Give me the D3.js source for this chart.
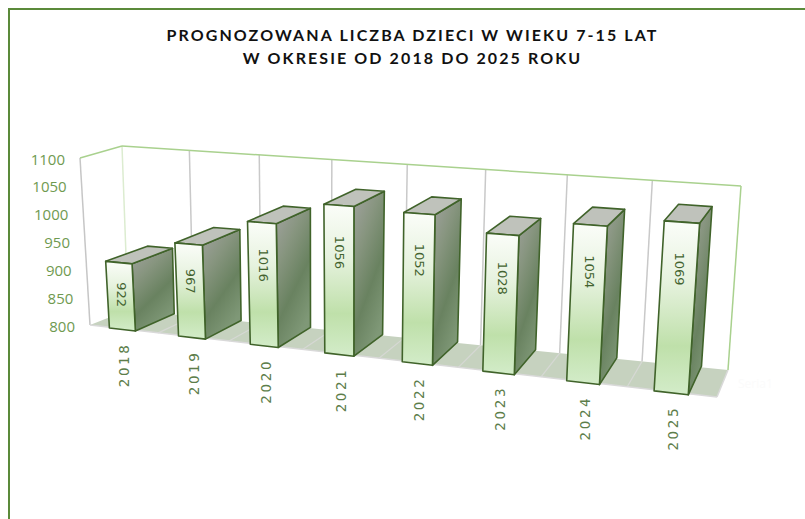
<!DOCTYPE html>
<html>
<head>
<meta charset="utf-8">
<script src="https://cdn.jsdelivr.net/npm/d3@7"></script>
<style>
	html, body { margin: 0; padding: 0; background: #fff; }
	svg { display: block; }
</style>
</head>
<body>
<svg id="chart" width="805" height="519"></svg>
<script>
const years = ['2018', '2019', '2020', '2021', '2022', '2023', '2024', '2025'];
const values = [922, 967, 1016, 1056, 1052, 1028, 1054, 1069];
const valueTicks = [800, 850, 900, 950, 1000, 1050, 1100];
const titleLines = ['PROGNOZOWANA LICZBA DZIECI W WIEKU 7-15 LAT', 'W OKRESIE OD 2018 DO 2025 ROKU'];

const width = 805;
const height = 519;

// The corners of the 3d box as they land on the screen
const box = {
	frontBottomLeft: [90, 325], frontBottomRight: [717, 397],
	backBottomLeft: [128, 310], backBottomRight: [728, 370],
	frontTopLeft: [80, 158], frontTopRight: [731, 200],
	backTopLeft: [122, 146], backTopRight: [741, 186]
};
const perspective = 1.17;
const barSquash = 0.975; // bars sit a little short of the wall ticks

const mix = (a, b, t) => [a[0] + (b[0] - a[0]) * t, a[1] + (b[1] - a[1]) * t];

// u along the categories, v up the value axis, w into the depth, all 0..1
const project = (u, v, w) => {
	const p = u / (u + perspective * (1 - u));
	const front = mix(mix(box.frontBottomLeft, box.frontBottomRight, p), mix(box.frontTopLeft, box.frontTopRight, p), v);
	const back = mix(mix(box.backBottomLeft, box.backBottomRight, p), mix(box.backTopLeft, box.backTopRight, p), v);
	return mix(front, back, w);
};

const x = d3.scaleBand().domain(years).range([0, 1]).paddingInner(0.62).paddingOuter(0.31);
const y = d3.scaleLinear().domain([800, 1100]).range([0, 1]);
const z = d3.scaleLinear().domain([0, 1]).range([-0.04, 1.04]);
const labelDrop = d3.scaleLinear().domain([922, 1056]).range([32, 47]).clamp(true);

const line = d3.line();
const closed = pts => line(pts) + 'Z';

const svg = d3.select('#chart');
const defs = svg.append('defs');

const addGradient = (id, coords, stops) => {
	const g = defs.append('linearGradient').attr('id', id).attr('x1', coords[0]).attr('y1', coords[1]).attr('x2', coords[2]).attr('y2', coords[3]);
	stops.forEach(s => g.append('stop').attr('offset', s[0]).attr('stop-color', s[1]));
};
addGradient('front', [0, 0, 0, 1], [[0, '#fbfdf9'], [0.35, '#e6f2de'], [0.72, '#bfe0aa'], [1, '#d3ecc9']]);
addGradient('side', [0, 0, 0.5, 1], [[0, '#a2a3a0'], [0.35, '#87957f'], [0.68, '#698260'], [1, '#7f9877']]);

// chart frame
svg.append('path')
	.attr('d', line([[9, height], [9, 9], [width, 9]]))
	.attr('fill', 'none')
	.attr('stroke', '#5b8a3a')
	.attr('stroke-width', 2);

// title
svg.append('g').selectAll('text')
	.data(titleLines)
	.join('text')
	.attr('x', 412.5)
	.attr('y', (d, i) => 41 + i * 23)
	.attr('text-anchor', 'middle')
	.attr('font-family', 'Lato, sans-serif')
	.attr('font-weight', 700)
	.attr('font-size', 16)
	.attr('letter-spacing', 2.1)
	.attr('fill', '#111')
	.text(d => d);

// floor
svg.append('path')
	.attr('d', closed([project(0, 0, 0), project(1, 0, 0), project(1, 0, 1), project(0, 0, 1)]))
	.attr('fill', '#c6d2bf');

const step = x.step();
const gridAt = d3.range(1, years.length).map(i => i * step);

// wall and floor grid lines
const grid = svg.append('g').attr('fill', 'none');
grid.selectAll('path.wall')
	.data(gridAt)
	.join('path')
	.attr('class', 'wall')
	.attr('d', d => line([project(d, 0, 1), project(d, 1, 1)]))
	.attr('stroke', '#c9c9c9')
	.attr('stroke-width', 1.5);
grid.selectAll('path.floor')
	.data(gridAt)
	.join('path')
	.attr('class', 'floor')
	.attr('d', d => line([project(d, 0, 0), project(d, 0, 1)]))
	.attr('stroke', '#d6d8d4')
	.attr('stroke-width', 1.2);

// box edges
const edges = [
	[[0, 0, 0], [0, 1, 0], '#c6c6c6'],
	[[1, 0, 0], [1, 0, 1], '#d9d9d9'],
	[[0, 0, 0], [1, 0, 0], '#d9d9d9'],
	[[0, 0, 1], [0, 1, 1], '#dcecd0'],
	[[0, 1, 0], [0, 1, 1], '#a9d18e'],
	[[0, 1, 1], [1, 1, 1], '#a9d18e'],
	[[1, 1, 1], [1, 0, 1], '#a9d18e']
];
grid.selectAll('path.edge')
	.data(edges)
	.join('path')
	.attr('class', 'edge')
	.attr('d', d => line([project(...d[0]), project(...d[1])]))
	.attr('stroke', d => d[2])
	.attr('stroke-width', 1.5);

// value axis
svg.append('g').selectAll('text')
	.data(valueTicks)
	.join('text')
	.attr('x', d => project(0, y(d), 0)[0] - 15)
	.attr('y', d => project(0, y(d), 0)[1] + 6.5)
	.attr('text-anchor', 'end')
	.attr('font-family', 'Open Sans, sans-serif')
	.attr('font-size', 15)
	.attr('fill', '#6f9a50')
	.text(d => d);

// the leftover depth axis name, almost white in the picture
svg.append('text')
	.attr('x', 738)
	.attr('y', 388)
	.attr('font-family', 'Open Sans, sans-serif')
	.attr('font-size', 12)
	.attr('fill', '#fbfbfb')
	.text('Seria1');

// bars, left to right so each one covers the side of the one before
const bars = svg.append('g').selectAll('g')
	.data(years.map((year, i) => ({ year, value: values[i] })))
	.join('g');

const corners = d => {
	const l = x(d.year);
	const r = l + x.bandwidth();
	const v = y(d.value) * barSquash;
	const near = z(0);
	const far = z(1);
	return {
		fb: [project(l, 0, near), project(r, 0, near)],
		ft: [project(l, v, near), project(r, v, near)],
		bb: [project(l, 0, far), project(r, 0, far)],
		bt: [project(l, v, far), project(r, v, far)]
	};
};

const face = (name, fill, pts) => bars.append('path')
	.attr('class', name)
	.attr('d', d => closed(pts(corners(d))))
	.attr('fill', fill)
	.attr('stroke', '#40632a')
	.attr('stroke-width', 1.6)
	.attr('stroke-linejoin', 'round');

face('side', 'url(#side)', c => [c.ft[1], c.bt[1], c.bb[1], c.fb[1]]);
face('top', '#bfc2bb', c => [c.ft[0], c.ft[1], c.bt[1], c.bt[0]]);
face('front', 'url(#front)', c => [c.ft[0], c.ft[1], c.fb[1], c.fb[0]]);

// value labels, turned to read downwards
bars.append('text')
	.attr('transform', d => {
		const c = corners(d);
		const top = mix(c.ft[0], c.ft[1], 0.5);
		const bottom = mix(c.fb[0], c.fb[1], 0.5);
		const drop = labelDrop(d.value);
		const t = drop / (bottom[1] - top[1]);
		const p = mix(top, bottom, t);
		return 'translate(' + (p[0] + 1) + ',' + p[1] + ') rotate(90)';
	})
	.attr('text-anchor', 'middle')
	.attr('dy', '0.35em')
	.attr('font-family', 'DejaVu Sans, sans-serif')
	.attr('font-size', 13)
	.attr('fill', '#43632f')
	.text(d => d.value);

// category labels
bars.append('text')
	.attr('transform', d => {
		const c = corners(d);
		const p = mix(c.fb[0], c.fb[1], 0.5);
		return 'translate(' + (p[0] + 2) + ',' + (p[1] + 13) + ') rotate(-90)';
	})
	.attr('text-anchor', 'end')
	.attr('dy', '0.35em')
	.attr('font-family', 'DejaVu Sans, sans-serif')
	.attr('font-size', 13.5)
	.attr('letter-spacing', 2.6)
	.attr('fill', '#5c7d4a')
	.text(d => d.year);
</script>
</body>
</html>
